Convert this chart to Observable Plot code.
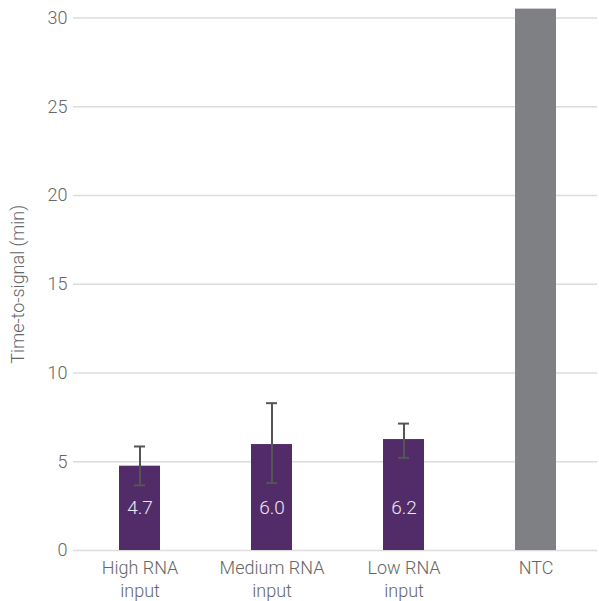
<!DOCTYPE html>
<html><head><meta charset="utf-8">
<script src="https://cdn.jsdelivr.net/npm/d3@7"></script>
<script src="https://cdn.jsdelivr.net/npm/@observablehq/plot@0.6"></script>
<style>
body{margin:0;background:#fff}
svg{font-family: Roboto, "Liberation Sans", sans-serif; font-weight:300}
</style>
</head><body><div id="chart"></div>
<script>
const categories = ["High RNA\ninput", "Medium RNA\ninput", "Low RNA\ninput", "NTC"];
const groups = ["sample", "sample", "sample", "ntc"];
const values = [4.75, 5.97, 6.25, 30.5];
const valueLabels = ["4.7", "6.0", "6.2", ""];
const errLow = [3.67, 3.8, 5.22, null];
const errHigh = [5.86, 8.3, 7.15, null];
const yTicks = [0, 5, 10, 15, 20, 25, 30];
const yLabel = "Time-to-signal (min)";

const rows = categories.map((c, i) => ({cat: c, group: groups[i], value: values[i], label: valueLabels[i], lo: errLow[i], hi: errHigh[i]}));
const errRows = rows.filter(d => d.lo != null);
const labelRows = rows.filter(d => d.label);

const chart = Plot.plot({
  width: 599,
  height: 601,
  marginTop: 17.5,
  marginBottom: 51,
  marginLeft: 73,
  marginRight: 2,
  x: {domain: categories, paddingInner: 0.688, paddingOuter: 0.324, align: 0.535},
  y: {domain: [0, 30]},
  color: {domain: ["sample", "ntc"], range: ["#522c69", "#7f8084"]},
  marks: [
    Plot.gridY(yTicks, {stroke: "#dcdcdc", strokeOpacity: 1, strokeWidth: 1.5}),
    Plot.axisY({ticks: yTicks, tickSize: 0, tickPadding: 6, fontSize: 18, fill: "#666", label: null}),
    Plot.axisX({tickSize: 0, tickPadding: 7, fontSize: 18, fill: "#666", lineHeight: 1.28, label: null}),
    Plot.text([yLabel], {frameAnchor: "left", textAnchor: "middle", rotate: -90, dx: -55, fontSize: 18, fill: "#666"}),
    Plot.barY(rows, {x: "cat", y: "value", fill: "group"}),
    Plot.ruleX(errRows, {x: "cat", y1: "lo", y2: "hi", stroke: "#555", strokeWidth: 2}),
    Plot.tickY(errRows, {x: "cat", y: "hi", stroke: "#555", strokeWidth: 2, insetLeft: 15, insetRight: 15}),
    Plot.tickY(errRows, {x: "cat", y: "lo", stroke: "#555", strokeWidth: 2, insetLeft: 15, insetRight: 15}),
    Plot.text(labelRows, {x: "cat", y: 0, text: "label", dy: -43, fill: "#ece6f2", fontSize: 19})
  ]
});
document.getElementById("chart").appendChild(chart);
</script>
</body></html>
